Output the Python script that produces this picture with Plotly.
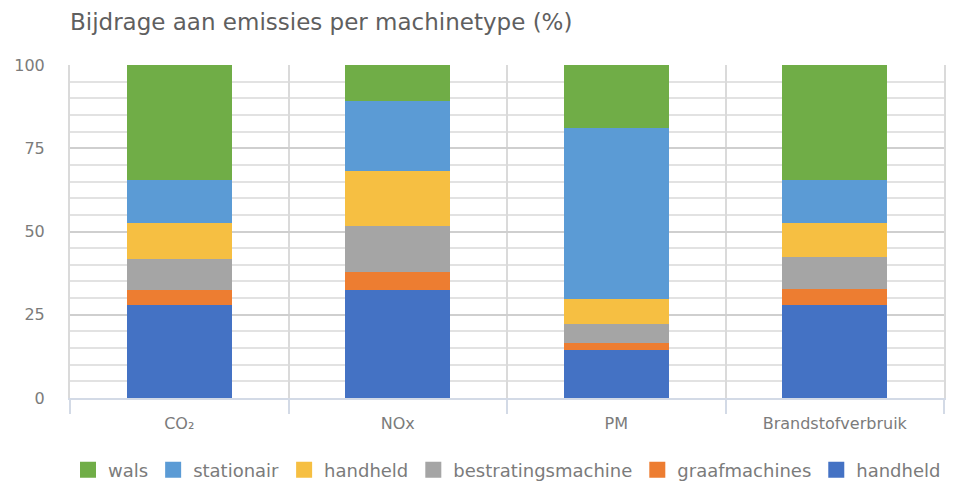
import plotly.graph_objects as go

# Categories on the x axis
categories = ["CO₂", "NOx", "PM", "Brandstofverbruik"]

# Share (%) per machine type, listed bottom-up in the stack
handheld_blauw = [27.8, 32.5, 14.3, 27.8]
graafmachines = [4.7, 5.3, 2.3, 4.8]
bestratingsmachine = [9.1, 13.9, 5.7, 9.7]
handheld_geel = [11.0, 16.4, 7.3, 10.4]
stationair = [13.0, 21.2, 51.4, 12.9]
wals = [34.4, 10.7, 19.0, 34.4]

y_ticks = [0, 25, 50, 75, 100]

series = [
    ("handheld", handheld_blauw, "#4472C4"),
    ("graafmachines", graafmachines, "#ED7D31"),
    ("bestratingsmachine", bestratingsmachine, "#A5A5A5"),
    ("handheld", handheld_geel, "#F6BF42"),
    ("stationair", stationair, "#5B9BD5"),
    ("wals", wals, "#70AD47"),
]

FONT = "DejaVu Sans"
TEXT = "#7b7b7b"

fig = go.Figure()

for name, vals, color in series:
    fig.add_trace(go.Bar(
        x=categories, y=vals, name=name,
        marker=dict(color=color, line=dict(width=0)),
        showlegend=False,
    ))

# Legend entries with larger square swatches, top of the stack first
for name, vals, color in reversed(series):
    fig.add_trace(go.Scatter(
        x=[None], y=[None], mode="markers", name=name,
        marker=dict(symbol="square", size=16, color=color),
        showlegend=True, hoverinfo="skip",
    ))

fig.update_layout(
    width=953, height=485,
    margin=dict(l=70, r=7, t=65, b=87),
    paper_bgcolor="white", plot_bgcolor="white",
    barmode="stack", bargap=0.52,
    font=dict(family=FONT, color=TEXT, size=14),
    title=dict(
        text="Bijdrage aan emissies per machinetype (%)",
        x=70 / 953, xanchor="left", xref="container",
        y=1 - 22 / 485, yanchor="middle", yref="container",
        font=dict(family=FONT, size=23, color="#5f5f5f"),
    ),
    legend=dict(
        orientation="h", x=0.5, xanchor="center",
        y=1 - 470 / 485, yanchor="middle", yref="container",
        font=dict(family=FONT, size=18, color=TEXT),
        itemsizing="trace", traceorder="normal",
        bgcolor="rgba(0,0,0,0)",
    ),
    showlegend=True,
)

fig.update_xaxes(
    type="category", range=[-0.5, 3.5],
    tickson="boundaries", ticks="outside", ticklen=14,
    tickcolor="#d3dae6", tickwidth=2,
    showgrid=True, gridcolor="#dadada", gridwidth=2,
    showline=True, linecolor="#d3dae6", linewidth=2,
    ticklabelstandoff=10,
    tickfont=dict(family=FONT, size=16, color=TEXT),
    fixedrange=True,
)

fig.update_yaxes(
    range=[0, 100], tickvals=y_ticks, ticktext=[str(v) for v in y_ticks],
    showgrid=True, gridcolor="#cfcfcf", gridwidth=2,
    minor=dict(dtick=5, showgrid=True, gridcolor="#e2e2e2", gridwidth=2),
    zeroline=False, showline=True, mirror=True,
    linecolor="#dadada", linewidth=2,
    ticks="", ticklabelstandoff=20,
    tickfont=dict(family=FONT, size=16, color=TEXT),
    fixedrange=True,
)

fig.write_html("out.html")
